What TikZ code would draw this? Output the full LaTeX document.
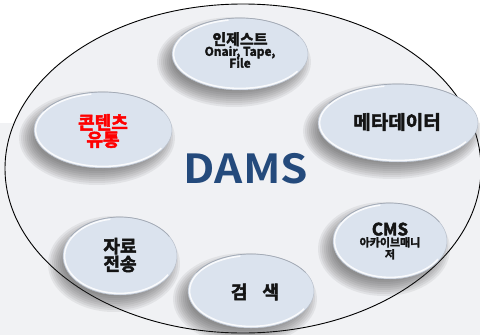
\documentclass[tikz,border=0pt]{standalone}
\usepackage{fontspec}
\setmainfont{Noto Sans CJK KR}[BoldFont={Noto Sans CJK KR Bold}, BoldFeatures={FakeBold=2.6}]
\newfontfamily\titlefont{Noto Sans CJK KR Bold}
\usetikzlibrary{shapes.geometric}

\definecolor{pagetop}{HTML}{FFFFFF}
\definecolor{pagegray}{HTML}{F1F2F4}
\definecolor{hallfill}{HTML}{F0F1F4}
\definecolor{bubblefill}{HTML}{DBE3EE}
\definecolor{bubbleedge}{HTML}{B9C0CB}
\definecolor{rimgray}{HTML}{A3AAB5}
\definecolor{shadowc}{HTML}{333333}
\definecolor{damsblue}{HTML}{244A7C}
\definecolor{labelink}{HTML}{141414}
\definecolor{hotred}{HTML}{FF0000}

\newcommand\fs[2]{\fontsize{#1}{#2}\selectfont}

\tikzset{
  bubble/.style={ellipse, fill=bubblefill, draw=bubbleedge, line width=0.5pt,
                 inner sep=0pt, outer sep=0pt},
  tag/.style={font=\bfseries, text=labelink, align=center, inner sep=0pt},
  hall/.style={draw=black, line width=0.9pt, fill=hallfill},
}

% #1 name, #2 x, #3 y, #4 x radius, #5 y radius (all in px units)
\newcommand\bubble[5]{%
  \foreach \s in {16,14,...,0}{%
    \fill[shadowc, opacity=0.075, shift={(#2-6,#3+8)}] (0,0)
      ellipse [x radius={#4pt+\s pt-7pt}, y radius={#5pt+\s pt-7pt}];
  }
  \node[bubble, minimum width={2*#4pt}, minimum height={2*#5pt}] (#1) at (#2,#3) {};
  \draw[white, opacity=0.85, line width=1.5pt]
    (#2,#3) ++(100:{#4pt-1.6pt} and {#5pt-1.6pt})
    arc[start angle=100, end angle=330, x radius={#4pt-1.6pt}, y radius={#5pt-1.6pt}];
  \draw[rimgray, line width=0.7pt]
    (#2,#3) ++(150:#4pt and #5pt)
    arc[start angle=150, end angle=30, x radius=#4pt, y radius=#5pt];
}

\begin{document}
\begin{tikzpicture}[x=1pt, y=-1pt]
  \useasboundingbox (0,0) rectangle (480,335);

  % page background: white band on top, gray below
  \fill[pagetop] (0,0) rectangle (480,123);
  \fill[pagegray] (0,123) rectangle (480,335);

  % the surrounding hall
  \path[hall] (243,168.5) ellipse [x radius=238pt, y radius=164.5pt];

  % bubbles
  \bubble{ingest}{240}{54}{68}{36}
  \bubble{dist}{103}{130}{69}{38}
  \bubble{meta}{398}{123}{80}{39}
  \bubble{cms}{390}{241}{57}{38}
  \bubble{search}{251}{291}{63}{37}
  \bubble{xfer}{120}{256}{57}{39}

  % labels
  \node[tag] (ingestT) at (240,50)
    {\fs{15}{13}인제스트\\[-1pt]
     \fs{12}{10}Onair, Tape,\\[-1.5pt] \fs{12}{10}File};
  \node[tag, text=hotred] (distT) at (103,131)
    {\fs{18}{20}콘텐츠\\ \fs{18}{20}유통};
  \node[tag] (metaT) at (397,122)
    {\fs{19}{20}메타데이터};
  \node[tag] (cmsT) at (390,241)
    {\fs{17}{15}CMS\\[-1pt]
     \fs{11}{9.5}아카이브매니\\ \fs{11}{9.5}저};
  \node[tag] (xferT) at (120,255)
    {\fs{18}{20}자료\\ \fs{18}{20}전송};
  \node[tag] (searchT) at (255,292)
    {\fs{18}{20}검\hspace{15pt}색};

  % centre title
  \node[text=damsblue, inner sep=0pt] (dams) at (246,169)
    {\titlefont\fs{40}{40}\scalebox{1.1}[1]{DAMS}};
\end{tikzpicture}
\end{document}
